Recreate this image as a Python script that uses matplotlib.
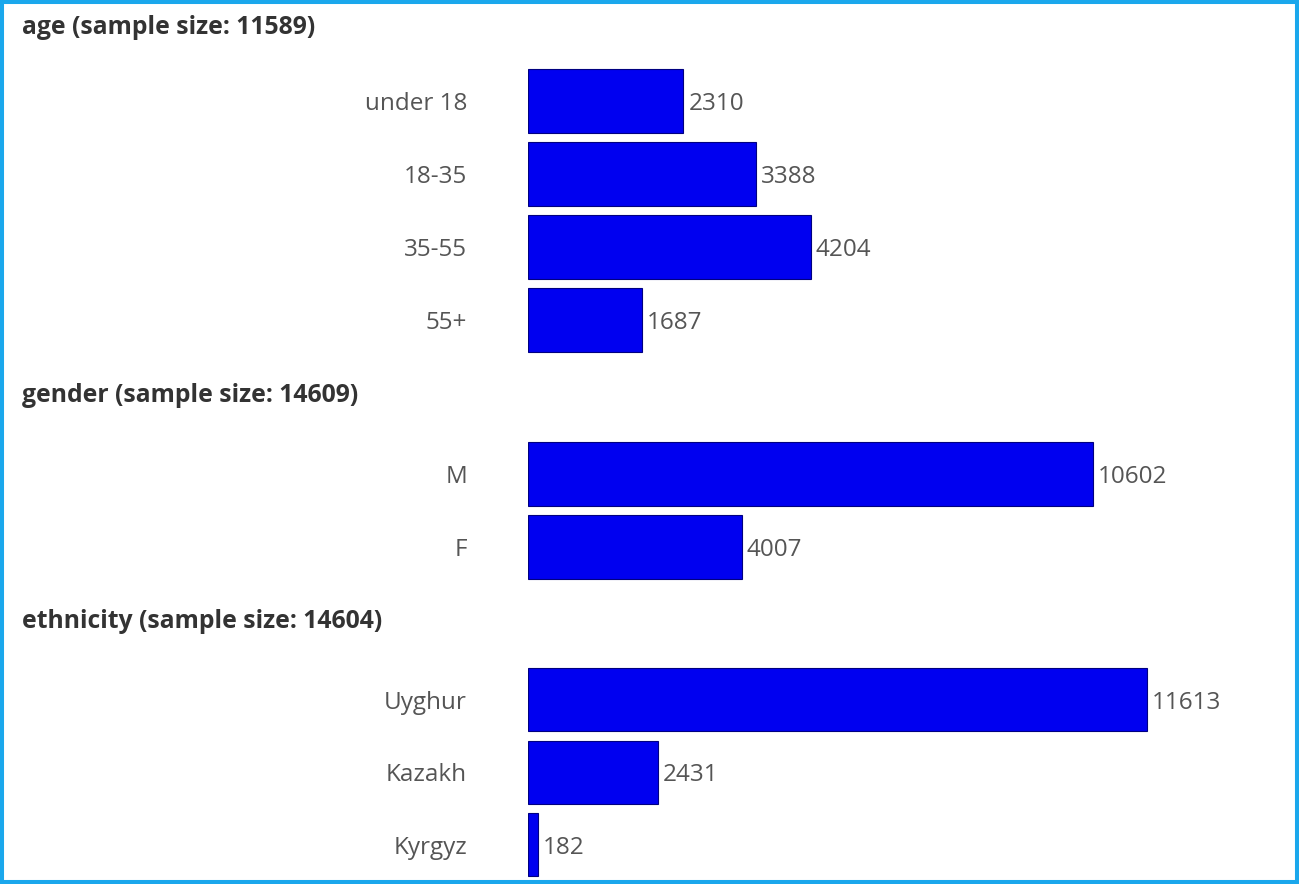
import matplotlib.pyplot as plt
from matplotlib.patches import Rectangle

# data
age_labels = ['under 18', '18-35', '35-55', '55+']
age_counts = [2310, 3388, 4204, 1687]
gender_labels = ['M', 'F']
gender_counts = [10602, 4007]
eth_labels = ['Uyghur', 'Kazakh', 'Kyrgyz']
eth_counts = [11613, 2431, 182]

titles = ['age (sample size: 11589)',
          'gender (sample size: 14609)',
          'ethnicity (sample size: 14604)']

W, H = 1299, 884
plt.rcParams['font.family'] = ['Open Sans', 'DejaVu Sans']

fig = plt.figure(figsize=(W / 100, H / 100), dpi=100)
fig.patch.set_facecolor('white')

bar_color = '#0000f0'
edge_color = '#000080'
label_color = '#555555'

# (labels, counts, top px, bottom px, xmax, title y px)
sections = [
    (age_labels, age_counts, 64.5, 356.5, 11025, 27),
    (gender_labels, gender_counts, 437.5, 583.5, 13920, 396),
    (eth_labels, eth_counts, 663.5, 881, 13920, 622),
]

x0, x1 = 528, 1270
for (labels, counts, top, bot, xmax, ty), title in zip(sections, titles):
    ax = fig.add_axes([x0 / W, 1 - bot / H, (x1 - x0) / W, (bot - top) / H])
    n = len(labels)
    pos = list(range(n))
    bars = ax.barh(pos, counts, height=0.865, color=bar_color,
                   edgecolor=edge_color, linewidth=0.8)
    ax.set_ylim(n - 0.5, -0.5)
    ax.set_xlim(0, xmax)
    ax.set_yticks(pos)
    ax.set_yticklabels(labels, fontsize=17.5, color=label_color)
    ax.tick_params(axis='y', length=0, pad=44)
    ax.set_xticks([])
    for s in ax.spines.values():
        s.set_visible(False)
    txts = ax.bar_label(bars, labels=[str(c) for c in counts], padding=3.5,
                        fontsize=17.5, color=label_color)
    for t in txts:
        t.set_va('center_baseline')
    fig.text(22 / W, 1 - ty / H, title, fontsize=17.8, fontweight='bold',
             color='#333333', ha='left', va='center')

# light blue frame around the whole picture
fig.patches.append(Rectangle((0, 0), 1, 1, transform=fig.transFigure,
                             fill=False, edgecolor='#1aa7ec', linewidth=5.8))

fig.savefig('out.png', dpi=100)
